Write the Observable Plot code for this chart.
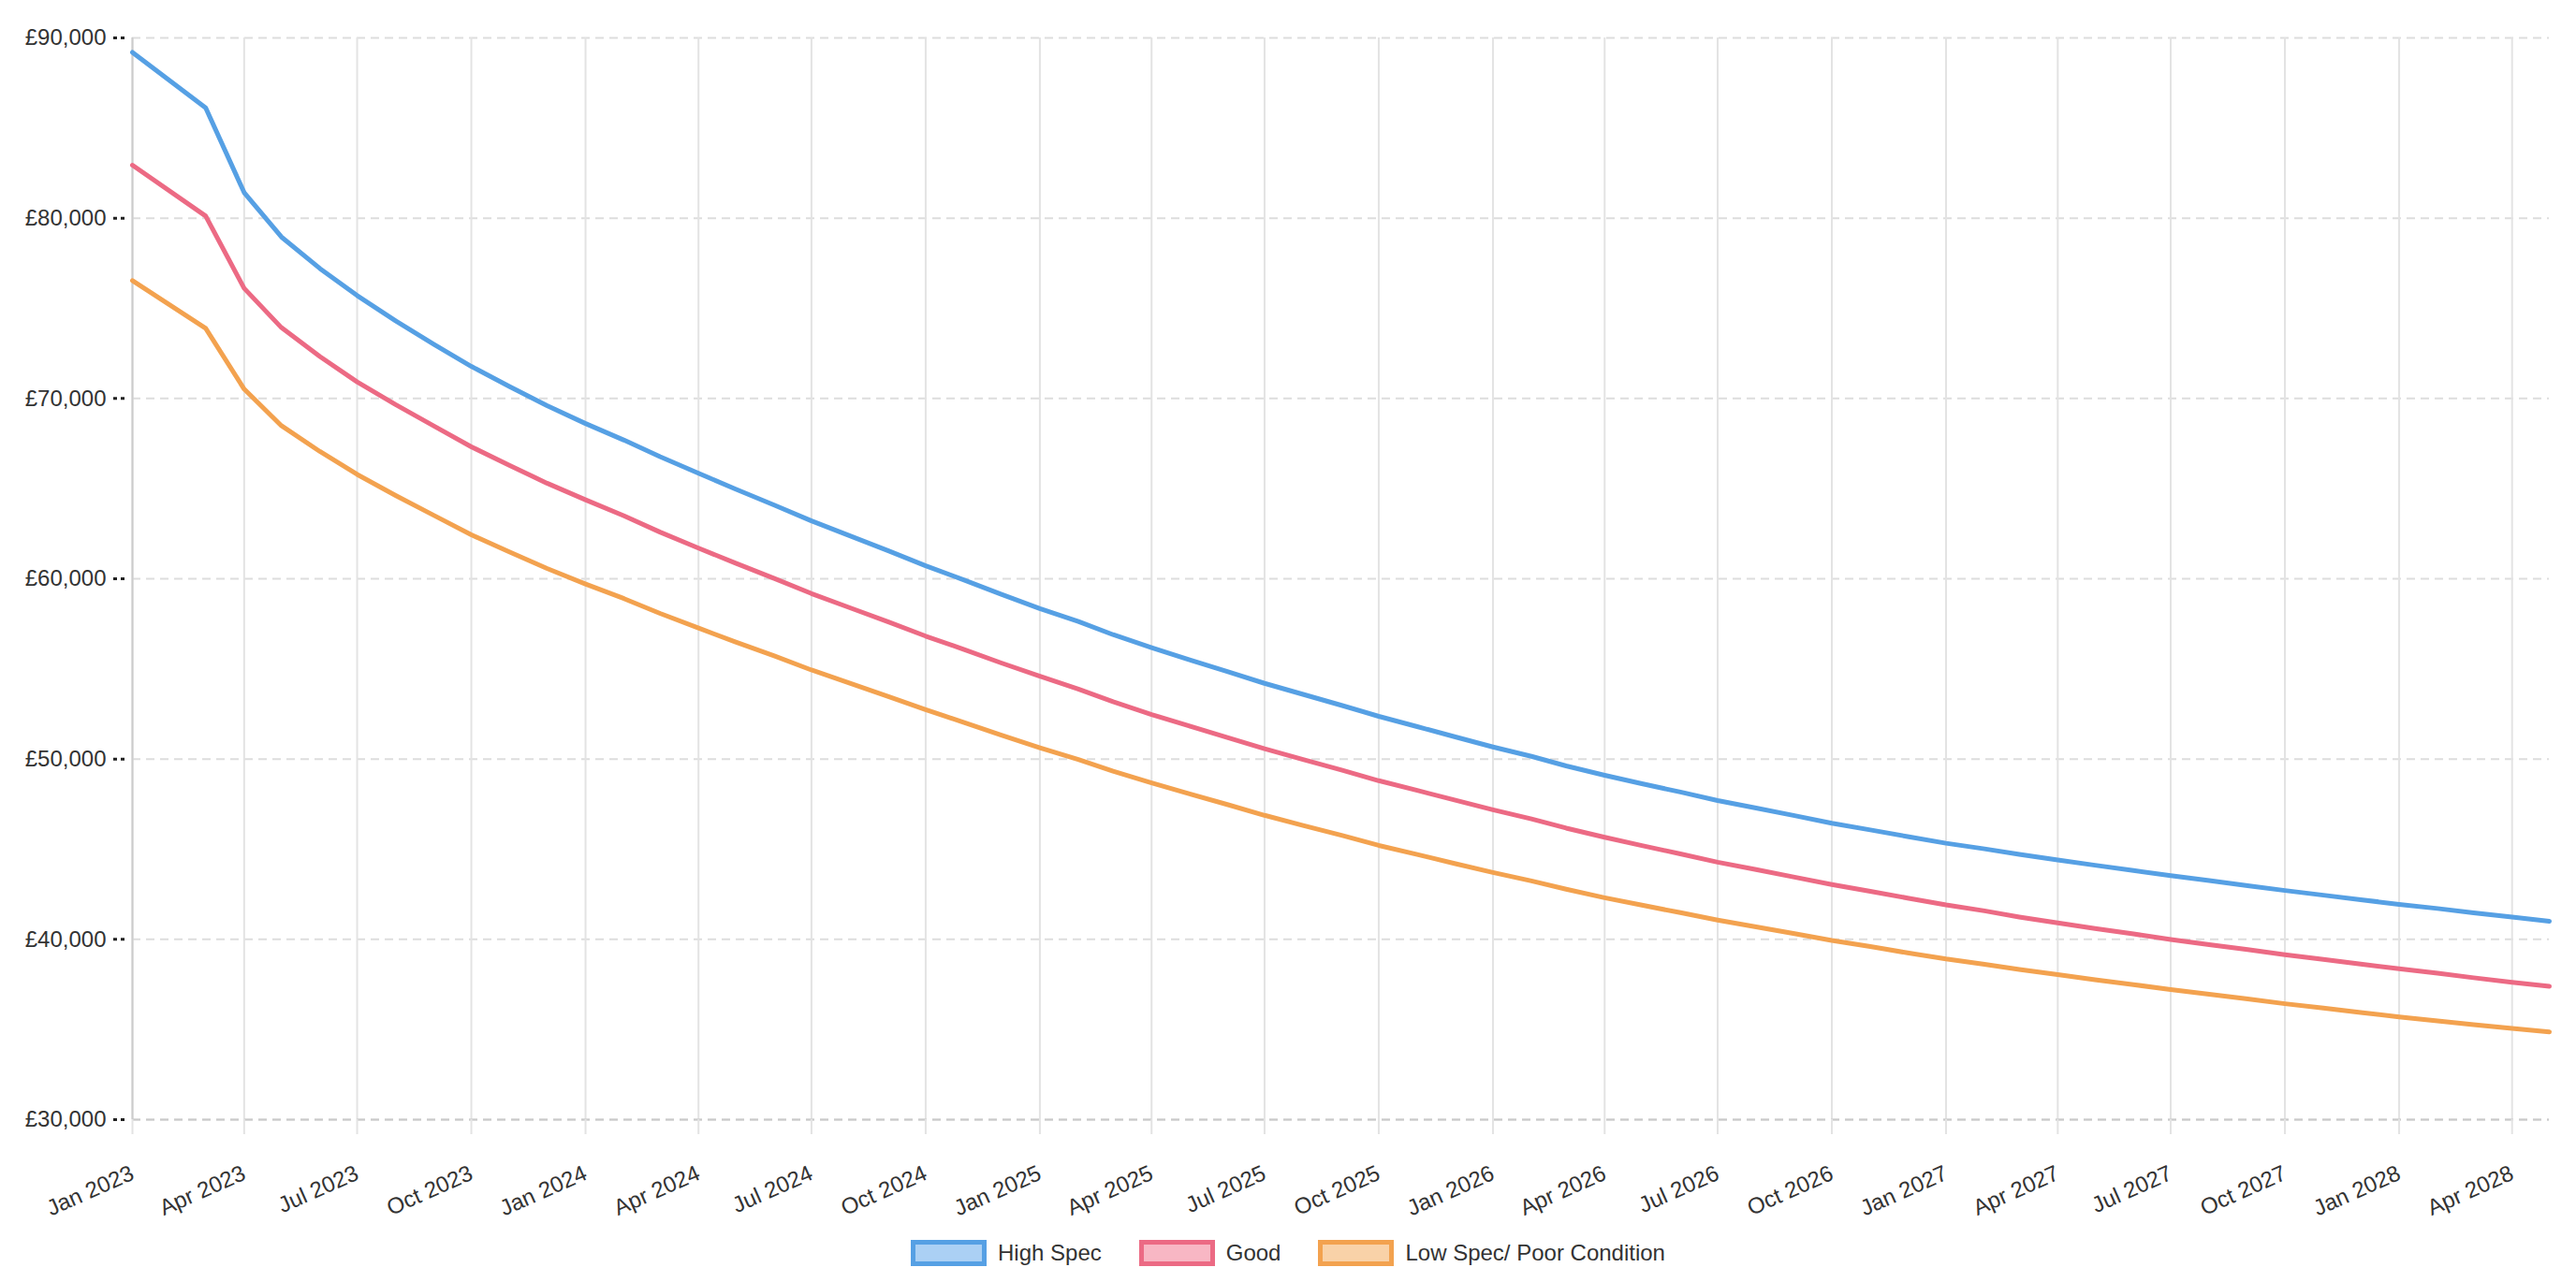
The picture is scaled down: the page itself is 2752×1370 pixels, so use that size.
<!DOCTYPE html>
<html>
<head>
<meta charset="utf-8">
<script src="https://cdn.jsdelivr.net/npm/d3@7"></script>
<script src="https://cdn.jsdelivr.net/npm/@observablehq/plot@0.6"></script>
<style>
  body { margin: 0; background: #fff; font-family: "Liberation Sans", Arial, Helvetica, sans-serif; }
  #legend { display: flex; justify-content: center; align-items: center; gap: 40px; height: 78px; font-size: 24px; color: #333; }
  .item { display: flex; align-items: center; }
  .sw { width: 71px; height: 18px; border: 5px solid; margin-right: 12px; box-sizing: content-box; }
</style>
</head>
<body>
<div id="chart"></div>
<div id="legend"></div>
<script>
const months = [
  "2023-01","2023-03","2023-04","2023-05","2023-06","2023-07","2023-08","2023-09","2023-10","2023-11","2023-12",
  "2024-01","2024-02","2024-03","2024-04","2024-05","2024-06","2024-07","2024-08","2024-09","2024-10","2024-11","2024-12",
  "2025-01","2025-02","2025-03","2025-04","2025-05","2025-06","2025-07","2025-08","2025-09","2025-10","2025-11","2025-12",
  "2026-01","2026-02","2026-03","2026-04","2026-05","2026-06","2026-07","2026-08","2026-09","2026-10","2026-11","2026-12",
  "2027-01","2027-02","2027-03","2027-04","2027-05","2027-06","2027-07","2027-08","2027-09","2027-10","2027-11","2027-12",
  "2028-01","2028-02","2028-03","2028-04","2028-05"
];
const highSpec = [
  89200, 86120, 81420, 78960, 77210, 75710, 74310, 73000, 71780, 70650, 69600,
  68610, 67690, 66770, 65850, 64970, 64090, 63210, 62380, 61550, 60720, 59930, 59140,
  58350, 57630, 56900, 56180, 55520, 54860, 54200, 53590, 52980, 52370, 51800, 51240,
  50670, 50150, 49620, 49100, 48630, 48170, 47700, 47280, 46860, 46440, 46070, 45700,
  45330, 45020, 44710, 44400, 44110, 43820, 43530, 43260, 42980, 42710, 42450, 42200,
  41940, 41710, 41470, 41240, 41000
];
const good = [
  82940, 80120, 76110, 73930, 72330, 70920, 69660, 68470, 67320, 66280, 65300,
  64380, 63490, 62590, 61700, 60860, 60020, 59180, 58390, 57610, 56820, 56080, 55330,
  54590, 53880, 53180, 52470, 51840, 51200, 50570, 49980, 49390, 48800, 48260, 47730,
  47190, 46680, 46170, 45660, 45200, 44740, 44280, 43870, 43450, 43040, 42660, 42290,
  41910, 41580, 41240, 40910, 40600, 40300, 39990, 39710, 39430, 39150, 38890, 38630,
  38370, 38120, 37870, 37620, 37400
];
const lowSpec = [
  76540, 73890, 70520, 68490, 67060, 65790, 64620, 63510, 62440, 61480, 60570,
  59710, 58900, 58080, 57270, 56490, 55720, 54940, 54210, 53470, 52740, 52030, 51330,
  50630, 49980, 49330, 48680, 48080, 47480, 46880, 46320, 45770, 45210, 44710, 44210,
  43710, 43240, 42780, 42310, 41900, 41480, 41070, 40690, 40320, 39940, 39600, 39250,
  38910, 38620, 38330, 38040, 37760, 37490, 37210, 36950, 36690, 36430, 36190, 35940,
  35700, 35480, 35270, 35060, 34870
];
const seriesNames = ["High Spec", "Good", "Low Spec/ Poor Condition"];
const seriesColors = ["#56a0e4", "#ec6a84", "#f3a24f"];
const seriesFills = ["#abd0f4", "#f8b7c4", "#f9d2a8"];
const yTicks = [30000, 40000, 50000, 60000, 70000, 80000, 90000];

const parse = d3.utcParse("%Y-%m");
const dates = months.map(parse);
const seriesValues = [highSpec, good, lowSpec];
const rows = [];
seriesNames.forEach((name, i) => {
  dates.forEach((d, j) => rows.push({series: name, date: d, value: seriesValues[i][j]}));
});
const xStart = dates[0], xEnd = dates[dates.length - 1];
const xTicks = d3.utcMonth.every(3).range(xStart, new Date(+xEnd + 1));
const fmtMoney = d => "£" + d3.format(",")(d);

const chart = Plot.plot({
  width: 2752,
  height: 1300,
  marginLeft: 141,
  marginRight: 29,
  marginTop: 40,
  marginBottom: 104,
  style: {fontFamily: "'Liberation Sans', Arial, Helvetica, sans-serif", fontSize: "24px", color: "#333", background: "#fff", overflow: "visible"},
  x: {type: "utc", domain: [xStart, xEnd]},
  y: {domain: [d3.min(yTicks), d3.max(yTicks)]},
  color: {domain: seriesNames, range: seriesColors},
  marks: [
    Plot.gridY(yTicks, {stroke: "#dddddd", strokeOpacity: 1, strokeWidth: 2, strokeDasharray: "9,6"}),
    Plot.gridX(xTicks, {stroke: "#e3e3e3", strokeOpacity: 1, strokeWidth: 2}),
    Plot.ruleY([yTicks[0]], {stroke: "#c9c9c9", strokeWidth: 2, strokeDasharray: "9,6"}),
    Plot.ruleX([xStart], {stroke: "#cccccc", strokeWidth: 2}),
    Plot.axisY(yTicks, {tickSize: 20, tickPadding: 8, tickFormat: fmtMoney, stroke: "#222", strokeWidth: 3, strokeDasharray: "0,8,4,4,4,4", fill: "#333", label: null}),
    Plot.axisX(xTicks, {tickSize: 16, tickPadding: 40, tickRotate: -24, tickFormat: d3.utcFormat("%b %Y"), stroke: "#e3e3e3", strokeWidth: 2, strokeOpacity: 1, fill: "#333", label: null}),
    Plot.line(rows, {x: "date", y: "value", z: "series", stroke: "series", strokeWidth: 5})
  ]
});
document.getElementById("chart").appendChild(chart);

const legend = document.getElementById("legend");
seriesNames.forEach((name, i) => {
  const item = document.createElement("div");
  item.className = "item";
  const sw = document.createElement("div");
  sw.className = "sw";
  sw.style.borderColor = seriesColors[i];
  sw.style.background = seriesFills[i];
  const t = document.createElement("span");
  t.textContent = name;
  item.appendChild(sw);
  item.appendChild(t);
  legend.appendChild(item);
});
</script>
</body>
</html>
